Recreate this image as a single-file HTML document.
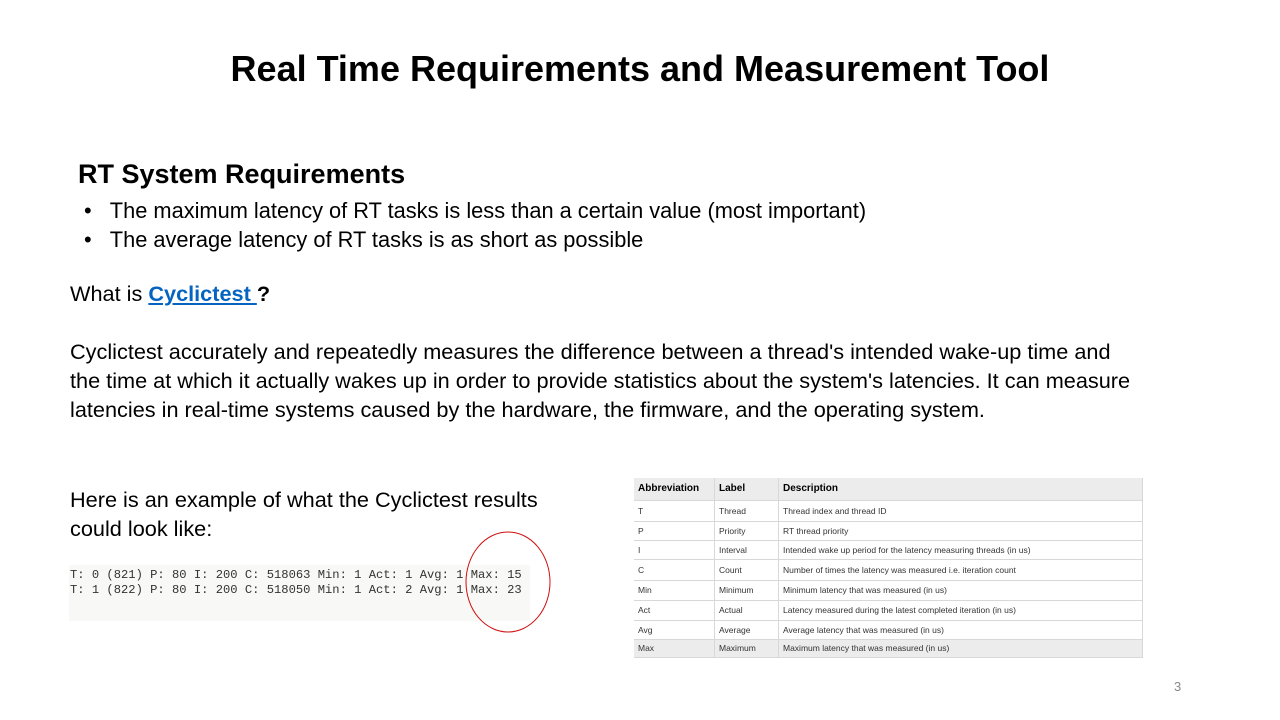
<!DOCTYPE html>
<html><head><meta charset="utf-8"><style>
body{margin:0;width:1280px;height:720px;background:#fff;position:relative;overflow:hidden;font-family:"Liberation Sans",sans-serif;color:#000}
.a{position:absolute;white-space:nowrap}
table{border-collapse:collapse;font-size:8.5px;color:#333}
td{border-right:1px solid #d8d8d8;border-bottom:1px solid #d8d8d8;padding:0 4px;vertical-align:middle}
</style></head><body>
<div class="a" style="left:0;width:1280px;text-align:center;top:48px;font-size:36px;font-weight:bold">Real Time Requirements and Measurement Tool</div>
<div class="a" style="left:78px;top:159px;font-size:27px;font-weight:bold">RT System Requirements</div>
<div class="a" style="left:84px;top:198px;font-size:21.8px">•&nbsp;&nbsp;&nbsp;The maximum latency of RT tasks is less than a certain value (most important)</div>
<div class="a" style="left:84px;top:227px;font-size:21.8px">•&nbsp;&nbsp;&nbsp;The average latency of RT tasks is as short as possible</div>
<div class="a" style="left:70px;top:281px;font-size:21.7px">What is <a style="color:#0563c1;font-weight:bold;text-decoration:underline">Cyclictest </a><b>?</b></div>
<div class="a" style="left:70px;top:337px;font-size:21.7px;line-height:29px">Cyclictest accurately and repeatedly measures the difference between a thread's intended wake-up time and<br>the time at which it actually wakes up in order to provide statistics about the system's latencies. It can measure<br>latencies in real-time systems caused by the hardware, the firmware, and the operating system.</div>
<div class="a" style="left:70px;top:485px;font-size:21.7px;line-height:29px">Here is an example of what the Cyclictest results<br>could look like:</div>
<div class="a" style="left:69px;top:565px;width:461px;height:56px;background:#f8f8f6"></div>
<div class="a" style="left:70px;top:568px;font-family:'Liberation Mono',monospace;font-size:12.15px;line-height:15px;color:#333">T: 0 (821) P: 80 I: 200 C: 518063 Min: 1 Act: 1 Avg: 1 Max: 15<br>T: 1 (822) P: 80 I: 200 C: 518050 Min: 1 Act: 2 Avg: 1 Max: 23</div>
<svg class="a" style="left:0;top:0" width="1280" height="720"><ellipse cx="508" cy="582" rx="42" ry="50" fill="none" stroke="#d01010" stroke-width="1"/></svg>
<table class="a" style="left:634px;top:478px;width:509px">
<tr style="height:22px;background:#ececec;font-weight:bold;color:#000;font-size:10px"><td style="width:72px">Abbreviation</td><td style="width:55px">Label</td><td>Description</td></tr>
<tr style="height:21px"><td>T</td><td>Thread</td><td>Thread index and thread ID</td></tr>
<tr style="height:19px"><td>P</td><td>Priority</td><td>RT thread priority</td></tr>
<tr style="height:19px"><td>I</td><td>Interval</td><td>Intended wake up period for the latency measuring threads (in us)</td></tr>
<tr style="height:21px"><td>C</td><td>Count</td><td>Number of times the latency was measured i.e. iteration count</td></tr>
<tr style="height:20px"><td>Min</td><td>Minimum</td><td>Minimum latency that was measured (in us)</td></tr>
<tr style="height:20px"><td>Act</td><td>Actual</td><td>Latency measured during the latest completed iteration (in us)</td></tr>
<tr style="height:19px"><td>Avg</td><td>Average</td><td>Average latency that was measured (in us)</td></tr>
<tr style="height:18px;background:#ececec"><td>Max</td><td>Maximum</td><td>Maximum latency that was measured (in us)</td></tr>
</table>
<div class="a" style="left:1174px;top:679px;font-size:13px;color:#888">3</div>
</body></html>
